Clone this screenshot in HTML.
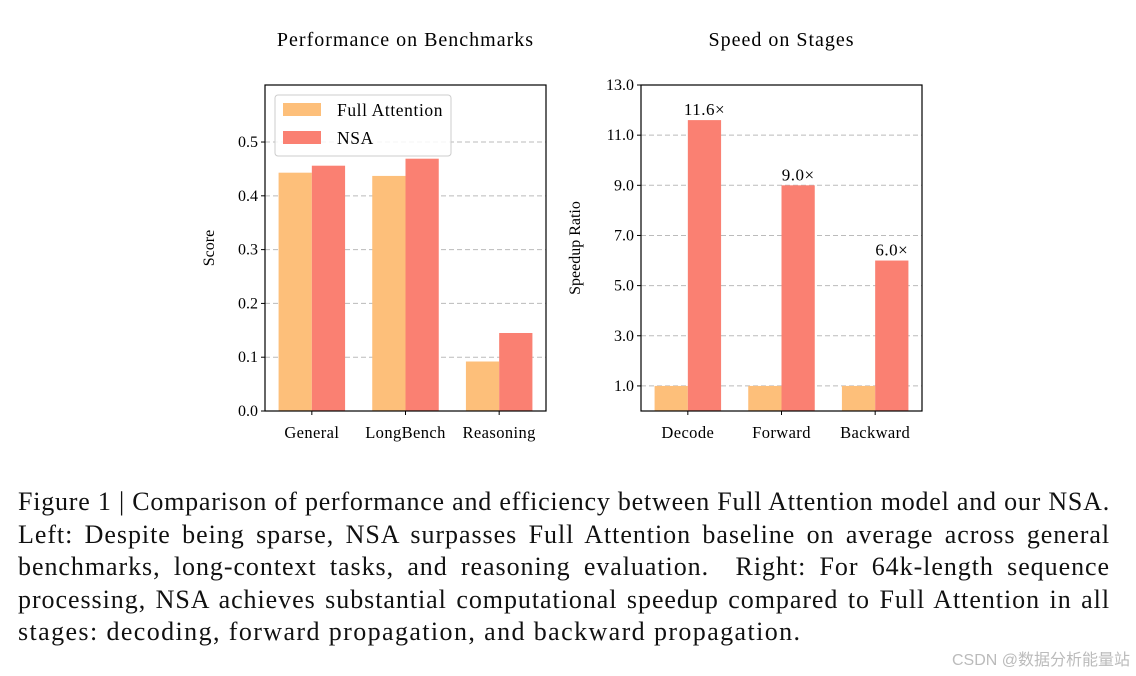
<!DOCTYPE html>
<html><head><meta charset="utf-8"><style>
body{margin:0;background:#fff;width:1136px;height:676px;overflow:hidden;position:relative;font-family:"Liberation Serif",serif}
#cap{position:absolute;left:18px;top:486px;width:1092px;font-size:26px;letter-spacing:0.95px;line-height:32.6px;color:#111;font-family:"Liberation Serif",serif}
#cap div{white-space:nowrap;text-align:justify;text-align-last:justify}
#cap div.first{letter-spacing:0.78px}
#cap div.last{text-align-last:left;letter-spacing:1.4px}
#wm{position:absolute;right:6px;top:646px;font-size:16px;color:#bbb;font-family:"Liberation Sans","Noto Sans CJK SC",sans-serif}
</style></head><body>
<svg id="chart" width="1136" height="480" style="position:absolute;left:0;top:0"></svg>
<div id="cap">
<div class="first">Figure 1 | Comparison of performance and efficiency between Full Attention model and our NSA.</div>
<div>Left: Despite being sparse, NSA surpasses Full Attention baseline on average across general</div>
<div>benchmarks, long-context tasks, and reasoning evaluation.&nbsp; Right: For 64k-length sequence</div>
<div>processing, NSA achieves substantial computational speedup compared to Full Attention in all</div>
<div class="last">stages: decoding, forward propagation, and backward propagation.</div>
</div>
<div id="wm">CSDN @数据分析能量站</div>
<script>
const benchCats=["General","LongBench","Reasoning"];
const benchFull=[0.443,0.437,0.092];
const benchNSA=[0.456,0.469,0.145];
const benchTicks=[0.0,0.1,0.2,0.3,0.4,0.5];
const stageCats=["Decode","Forward","Backward"];
const stageFull=[1.0,1.0,1.0];
const stageNSA=[11.6,9.0,6.0];
const stageTicks=[1.0,3.0,5.0,7.0,9.0,11.0,13.0];
const stageLabels=["11.6×","9.0×","6.0×"];

const NS="http://www.w3.org/2000/svg";
const svg=document.getElementById('chart');
function mk(tag,attrs,parent){const e=document.createElementNS(NS,tag);for(const k in attrs)e.setAttribute(k,attrs[k]);(parent||svg).appendChild(e);return e;}
function txt(x,y,s,size,anchor,parent,rot,ls){const t=mk('text',{x:x,y:y,'font-size':size,'text-anchor':anchor||'middle','font-family':'Liberation Serif, serif',fill:'#000'},parent);if(ls)t.setAttribute('letter-spacing',ls);if(rot)t.setAttribute('transform',`rotate(-90 ${x} ${y})`);t.textContent=s;return t;}
const FA="#fdbf7a",NSAc="#fa8072";

function panel(o){
  const g=mk('g',{});
  
  
  const L=o.x0,R=o.x1,T=85,B=411;
  const ys=v=>B-(v-0)/(o.ymax)*(B-T);
  o.ticks.forEach((t,i)=>{
    const y=ys(t);
    const gl=mk('line',{x1:L,x2:R,y1:y,y2:y,stroke:'#bbb','stroke-dasharray':'5,3','stroke-width':1},g);
    
    mk('line',{x1:L-4,x2:L,y1:y,y2:y,stroke:'#000'},g);
    const tl=txt(L-7,y+5,o.fmt(t),16,'end',g);
    
  });
  const step=(R-L)/3, bw=step*0.355;
  o.cats.forEach((c,i)=>{
    const cx=L+step*(i+0.5);
    const b1=mk('rect',{x:cx-bw,y:ys(o.a[i]),width:bw,height:B-ys(o.a[i]),fill:FA},g);
    
    const b2=mk('rect',{x:cx,y:ys(o.b[i]),width:bw,height:B-ys(o.b[i]),fill:NSAc},g);
    
    mk('line',{x1:cx,x2:cx,y1:B,y2:B+4,stroke:'#000'},g);
    const xl=txt(cx,438,c,16.5,'middle',g,false,0.4);
    
    if(o.labels){const vl=txt(cx+bw/2,ys(o.b[i])-5,o.labels[i],17,'middle',g,false,0.5);
      }
  });
  mk('rect',{x:L,y:T,width:R-L,height:B-T,fill:'none',stroke:'#000','stroke-width':1.2},g);
  const ti=txt((L+R)/2,46,o.title,20,'middle',g,false,1.0);
  
  const yt=txt(o.ytx,(T+B)/2,o.ytitle,16,'middle',g,true);
  
  return g;
}
panel({name:'benchmark-chart',x0:265,x1:546,ymax:0.606,ticks:benchTicks,fmt:t=>t.toFixed(1),cats:benchCats,a:benchFull,b:benchNSA,title:'Performance on Benchmarks',ytitle:'Score',ytx:214});
panel({name:'speed-chart',x0:641,x1:922,ymax:13,ticks:stageTicks,fmt:t=>t.toFixed(1),cats:stageCats,a:stageFull,b:stageNSA,labels:stageLabels,title:'Speed on Stages',ytitle:'Speedup Ratio',ytx:580});

const lg=mk('g',{});

mk('rect',{x:275,y:95,width:176,height:61,rx:3,fill:'#fff','fill-opacity':0.85,stroke:'#ccc'},lg);
const e1=mk('rect',{x:283,y:103,width:38,height:13,fill:FA},lg);

const l1=txt(337,116,'Full Attention',17.5,'start',lg,false,0.6);

const e2=mk('rect',{x:283,y:131,width:38,height:13,fill:NSAc},lg);

const l2=txt(337,144,'NSA',17.5,'start',lg,false,0.6);

</script>
</body></html>
